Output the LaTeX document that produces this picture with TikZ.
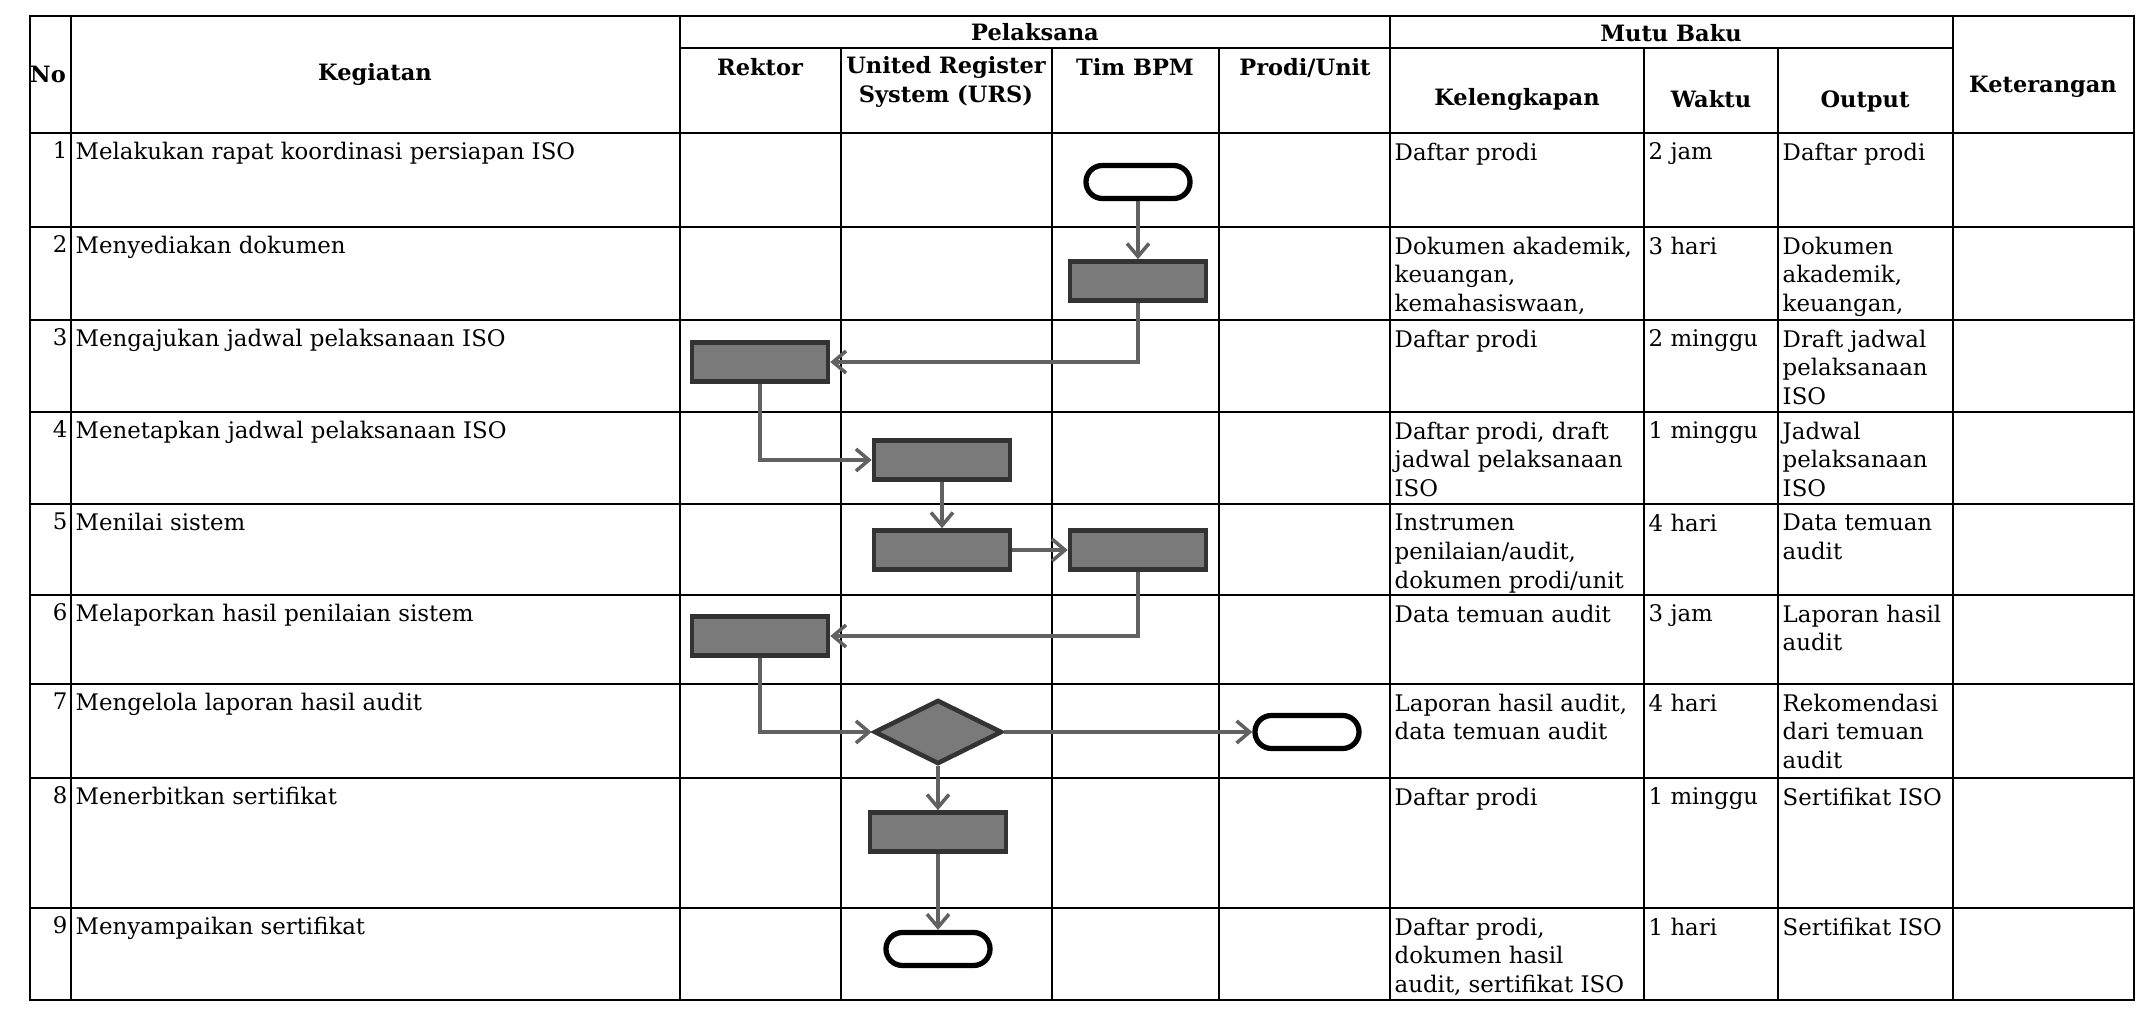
\documentclass[tikz,border=0pt]{standalone}
\usepackage{fontspec}
\setmainfont{DejaVu Serif}
\usetikzlibrary{shapes.geometric,shapes.misc,arrows.meta}

\begin{document}
\begin{tikzpicture}[x=0.01cm,y=-0.01cm,
    every node/.style={font=\fontsize{6.5}{8.2}\selectfont},
    rule/.style={line width=0.8pt},
    cell/.style={anchor=north west,align=left,inner sep=0pt},
    head/.style={align=center,inner sep=0pt,font=\fontsize{6.4}{8.2}\selectfont\bfseries},
    proses/.style={draw=black!80,line width=1.3pt,fill=black!52,minimum width=1.36cm,minimum height=0.39cm,inner sep=0pt},
    batas/.style={draw,line width=1.5pt,fill=white,rounded rectangle,minimum width=1.04cm,minimum height=0.33cm,inner sep=0pt},
    pilihan/.style={draw=black!80,line width=1.3pt,fill=black!52,diamond,minimum width=1.28cm,minimum height=0.64cm,inner sep=0pt},
    alur/.style={draw=black!62,line width=1pt,-{Straight Barb[length=1.3mm,width=2.2mm]}}]

    \useasboundingbox (0,0) rectangle (2145,1016);

    % tabel
    \draw[rule] (30,16) rectangle (2134,1000);
    \draw[rule] (680,48) -- (1953,48);
    \foreach \y in {133,227,320,412,504,595,684,778,908}
        \draw[rule] (30,\y) -- (2134,\y);
    \foreach \x in {71,680,1390,1953}
        \draw[rule] (\x,16) -- (\x,1000);
    \foreach \x in {841,1052,1219,1644,1778}
        \draw[rule] (\x,48) -- (\x,1000);

    \node[head] (hNo) at (48,74) {No};
    \node[head] (hKeg) at (375,74) {Kegiatan};
    \node[head] (hPel) at (1035,32) {Pelaksana};
    \node[head] (hMutu) at (1671,33) {Mutu Baku};
    \node[head,anchor=north] (hRek) at (760,58) {Rektor};
    \node[head,anchor=north] (hURS) at (946,56) {United Register\\System (URS)};
    \node[head,anchor=north] (hTim) at (1135,58) {Tim BPM};
    \node[head,anchor=north] (hPro) at (1305,58) {Prodi/Unit};
    \node[head] (hKel) at (1517,99) {Kelengkapan};
    \node[head] (hWak) at (1711,99) {Waktu};
    \node[head] (hOut) at (1865,101) {Output};
    \node[head] (hKet) at (2043,87) {Keterangan};

    \foreach \n/\y/\keg/\kel/\wak/\out in {
        1/133/{Melakukan rapat koordinasi persiapan ISO}/{Daftar prodi}/{2 jam}/{Daftar prodi},
        2/227/{Menyediakan dokumen}/{Dokumen akademik,\\keuangan,\\kemahasiswaan,}/{3 hari}/{Dokumen\\akademik,\\keuangan,},
        3/320/{Mengajukan jadwal pelaksanaan ISO}/{Daftar prodi}/{2 minggu}/{Draft jadwal\\pelaksanaan\\ISO},
        4/412/{Menetapkan jadwal pelaksanaan ISO}/{Daftar prodi, draft\\jadwal pelaksanaan\\ISO}/{1 minggu}/{Jadwal\\pelaksanaan\\ISO},
        5/504/{Menilai sistem}/{Instrumen\\penilaian/audit,\\dokumen prodi/unit}/{4 hari}/{Data temuan\\audit},
        6/595/{Melaporkan hasil penilaian sistem}/{Data temuan audit}/{3 jam}/{Laporan hasil\\audit},
        7/684/{Mengelola laporan hasil audit}/{Laporan hasil audit,\\data temuan audit}/{4 hari}/{Rekomendasi\\dari temuan\\audit},
        8/778/{Menerbitkan sertifikat}/{Daftar prodi}/{1 minggu}/{Sertifikat ISO},
        9/908/{Menyampaikan sertifikat}/{Daftar prodi,\\dokumen hasil\\audit, sertifikat ISO}/{1 hari}/{Sertifikat ISO}}
    {
        \node[cell,anchor=north east] (no\n) at (68,\y+8) {\n};
        \node[cell] (keg\n) at (75,\y+8) {\keg};
        \node[cell] (kel\n) at (1394,\y+9) {\kel};
        \node[cell] (wak\n) at (1648,\y+9) {\wak};
        \node[cell] (out\n) at (1782,\y+9) {\out};
    }

    % alur
    \node[batas] (t1) at (1138,182) {};
    \node[proses] (p2) at (1138,281) {};
    \node[proses] (p3) at (760,362) {};
    \node[proses] (p4) at (942,460) {};
    \node[proses] (p5a) at (942,550) {};
    \node[proses] (p5b) at (1138,550) {};
    \node[proses] (p6) at (760,636) {};
    \node[pilihan] (d7) at (938,732) {};
    \node[batas] (t7) at (1307,732) {};
    \node[proses] (p8) at (938,832) {};
    \node[batas] (t9) at (938,949) {};

    \draw[alur] (t1) -- (p2);
    \draw[alur] (p2.south) |- (p3.east);
    \draw[alur] (p3.south) |- (p4.west);
    \draw[alur] (p4) -- (p5a);
    \draw[alur] (p5a) -- (p5b);
    \draw[alur] (p5b.south) |- (p6.east);
    \draw[alur] (p6.south) |- (d7.west);
    \draw[alur] (d7) -- (t7);
    \draw[alur] (d7) -- (p8);
    \draw[alur] (p8) -- (t9);

\end{tikzpicture}
\end{document}
